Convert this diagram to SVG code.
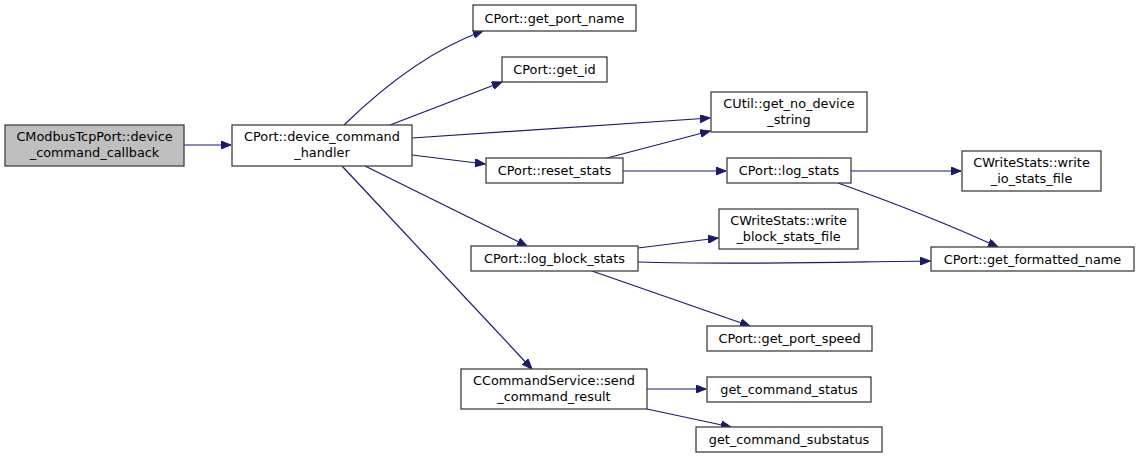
<svg xmlns="http://www.w3.org/2000/svg" width="1139" height="459" viewBox="0 0 1139 459">
<defs>
<marker id="ah" markerWidth="11" markerHeight="8" refX="10" refY="4" orient="auto" markerUnits="userSpaceOnUse">
<path d="M0,0 L10,4 L0,8 Z" fill="#191970" stroke="#191970" stroke-width="1"/>
</marker>
<style>
.n rect{fill:#ffffff;stroke:#404040;stroke-width:1.3}
.n.root rect{fill:#bfbfbf}
.n text{font-family:"DejaVu Sans",sans-serif;font-size:12.85px;text-anchor:middle;fill:#000}
#edges path{fill:none;stroke:#191970;stroke-width:1.2;marker-end:url(#ah)}
</style>
</defs>
<rect width="1139" height="459" fill="#ffffff"/>
<g id="edges">
<path d="M184,145 L231,145"/>
<path d="M344,125 C380,90 430,50 483,31"/>
<path d="M390,125 L502,82"/>
<path d="M412,138 L710,118"/>
<path d="M412,155 L485,164"/>
<path d="M365,166 L527,246"/>
<path d="M342,166 L532,369"/>
<path d="M607,158 L710,131"/>
<path d="M623,171 L726,171"/>
<path d="M851,171 L961,171"/>
<path d="M838,183 C880,198 950,225 998,247"/>
<path d="M638,248 L718,238"/>
<path d="M638,262 C740,265 840,262 930,261"/>
<path d="M592,271 L750,326"/>
<path d="M647,389 L706,389"/>
<path d="M647,409 L731,427"/>
</g>
<g id="n_callback" class="n root"><rect x="5" y="125" width="179" height="41"/><text x="94.5" y="141">CModbusTcpPort::device</text><text x="94.5" y="156.5">_command_callback</text></g>
<g id="n_handler" class="n"><rect x="232" y="125" width="180" height="41"/><text x="322" y="141">CPort::device_command</text><text x="322" y="156.5">_handler</text></g>
<g id="n_get_port_name" class="n"><rect x="473" y="5" width="163" height="26"/><text x="554.5" y="22.5">CPort::get_port_name</text></g>
<g id="n_get_id" class="n"><rect x="502" y="57" width="105" height="25"/><text x="554.5" y="74">CPort::get_id</text></g>
<g id="n_no_device" class="n"><rect x="711" y="92" width="156" height="40"/><text x="789" y="108">CUtil::get_no_device</text><text x="789" y="123.5">_string</text></g>
<g id="n_reset_stats" class="n"><rect x="486" y="158" width="137" height="25"/><text x="554.5" y="175">CPort::reset_stats</text></g>
<g id="n_log_stats" class="n"><rect x="727" y="158" width="124" height="25"/><text x="789" y="175">CPort::log_stats</text></g>
<g id="n_write_io" class="n"><rect x="962" y="151" width="139" height="40"/><text x="1031.5" y="167">CWriteStats::write</text><text x="1031.5" y="182.5">_io_stats_file</text></g>
<g id="n_write_block" class="n"><rect x="719" y="209" width="139" height="40"/><text x="788.5" y="225">CWriteStats::write</text><text x="788.5" y="240.5">_block_stats_file</text></g>
<g id="n_log_block" class="n"><rect x="471" y="246" width="167" height="25"/><text x="554.5" y="263">CPort::log_block_stats</text></g>
<g id="n_formatted" class="n"><rect x="931" y="247" width="203" height="24"/><text x="1032.5" y="263.5">CPort::get_formatted_name</text></g>
<g id="n_port_speed" class="n"><rect x="707" y="326" width="165" height="25"/><text x="789.5" y="343">CPort::get_port_speed</text></g>
<g id="n_send_result" class="n"><rect x="461" y="369" width="186" height="40"/><text x="554" y="385">CCommandService::send</text><text x="554" y="400.5">_command_result</text></g>
<g id="n_cmd_status" class="n"><rect x="707" y="377" width="164" height="25"/><text x="789" y="394">get_command_status</text></g>
<g id="n_cmd_substatus" class="n"><rect x="696" y="427" width="186" height="25"/><text x="789" y="444">get_command_substatus</text></g>
</svg>
